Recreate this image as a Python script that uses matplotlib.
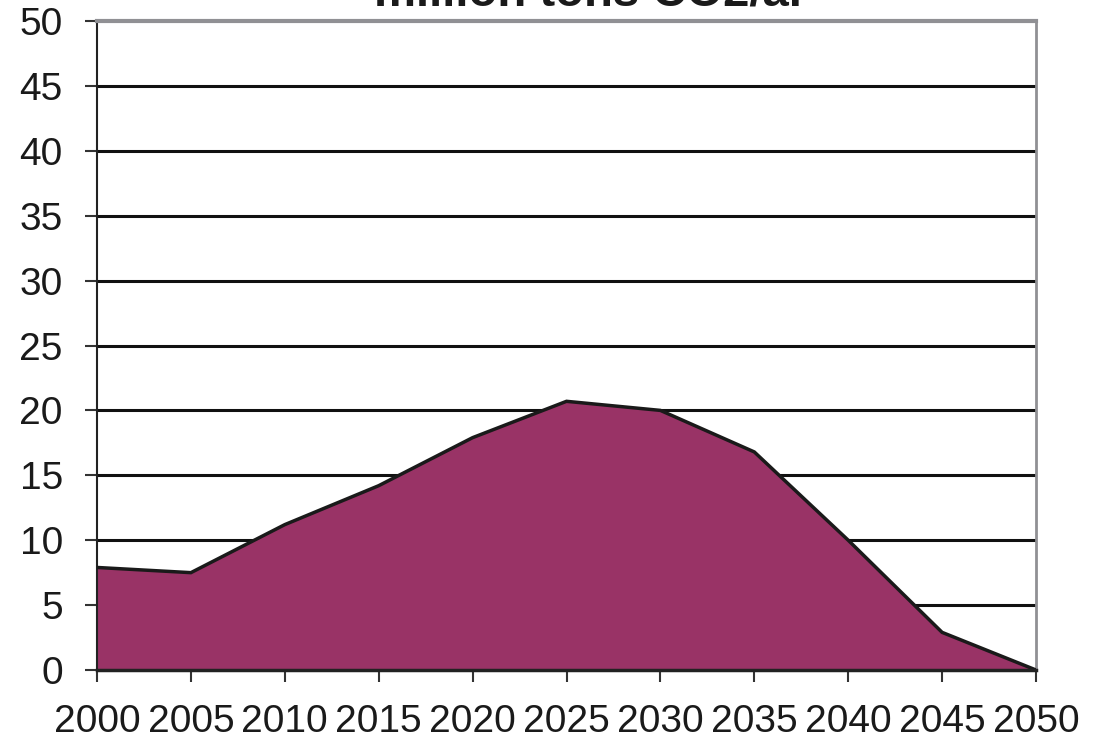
import matplotlib
matplotlib.use("Agg")
import matplotlib.pyplot as plt

years = [2000, 2005, 2010, 2015, 2020, 2025, 2030, 2035, 2040, 2045, 2050]
values = [7.9, 7.5, 11.2, 14.2, 17.9, 20.7, 20.0, 16.8, 10.0, 2.9, 0.0]
yticks = [0, 5, 10, 15, 20, 25, 30, 35, 40, 45, 50]
title = "million tons CO2/a."

plt.rcParams['font.family'] = ['Liberation Sans', 'DejaVu Sans']

fig = plt.figure(figsize=(11.09, 7.44), dpi=100)
ax = fig.add_axes([97/1109, 1 - 670/744, (1036-97)/1109, (670-21)/744])

for t in yticks[1:-1]:
    ax.axhline(t, color='#111111', lw=2.2, zorder=1)

ax.fill_between(years, values, 0, color='#993366', zorder=2)
ax.plot(years, values, color='#1a1a1a', lw=2.5, zorder=3, solid_joinstyle='miter')

ax.set_xlim(2000, 2050)
ax.set_ylim(0, 50)
ax.set_xticks(years)
ax.set_yticks(yticks)
ax.tick_params(axis='both', labelsize=28, length=8.6, width=1.5, color='#333333', labelcolor='#1a1a1a')
ax.tick_params(axis='x', pad=16)
ax.tick_params(axis='y', pad=16)

ax.spines['left'].set_color('#222222')
ax.spines['left'].set_linewidth(1.5)
ax.spines['bottom'].set_color('#222222')
ax.spines['bottom'].set_linewidth(2.5)
ax.spines['top'].set_color('#909094')
ax.spines['top'].set_linewidth(3)
ax.spines['right'].set_color('#909094')
ax.spines['right'].set_linewidth(2)
ax.spines['bottom'].set_zorder(4)

fig.text(588/1109, 1.0 - 5/744, title, fontsize=34, fontweight='bold', ha='center', va='baseline', color='#1a1a1a')

fig.savefig("out.png", dpi=100)
